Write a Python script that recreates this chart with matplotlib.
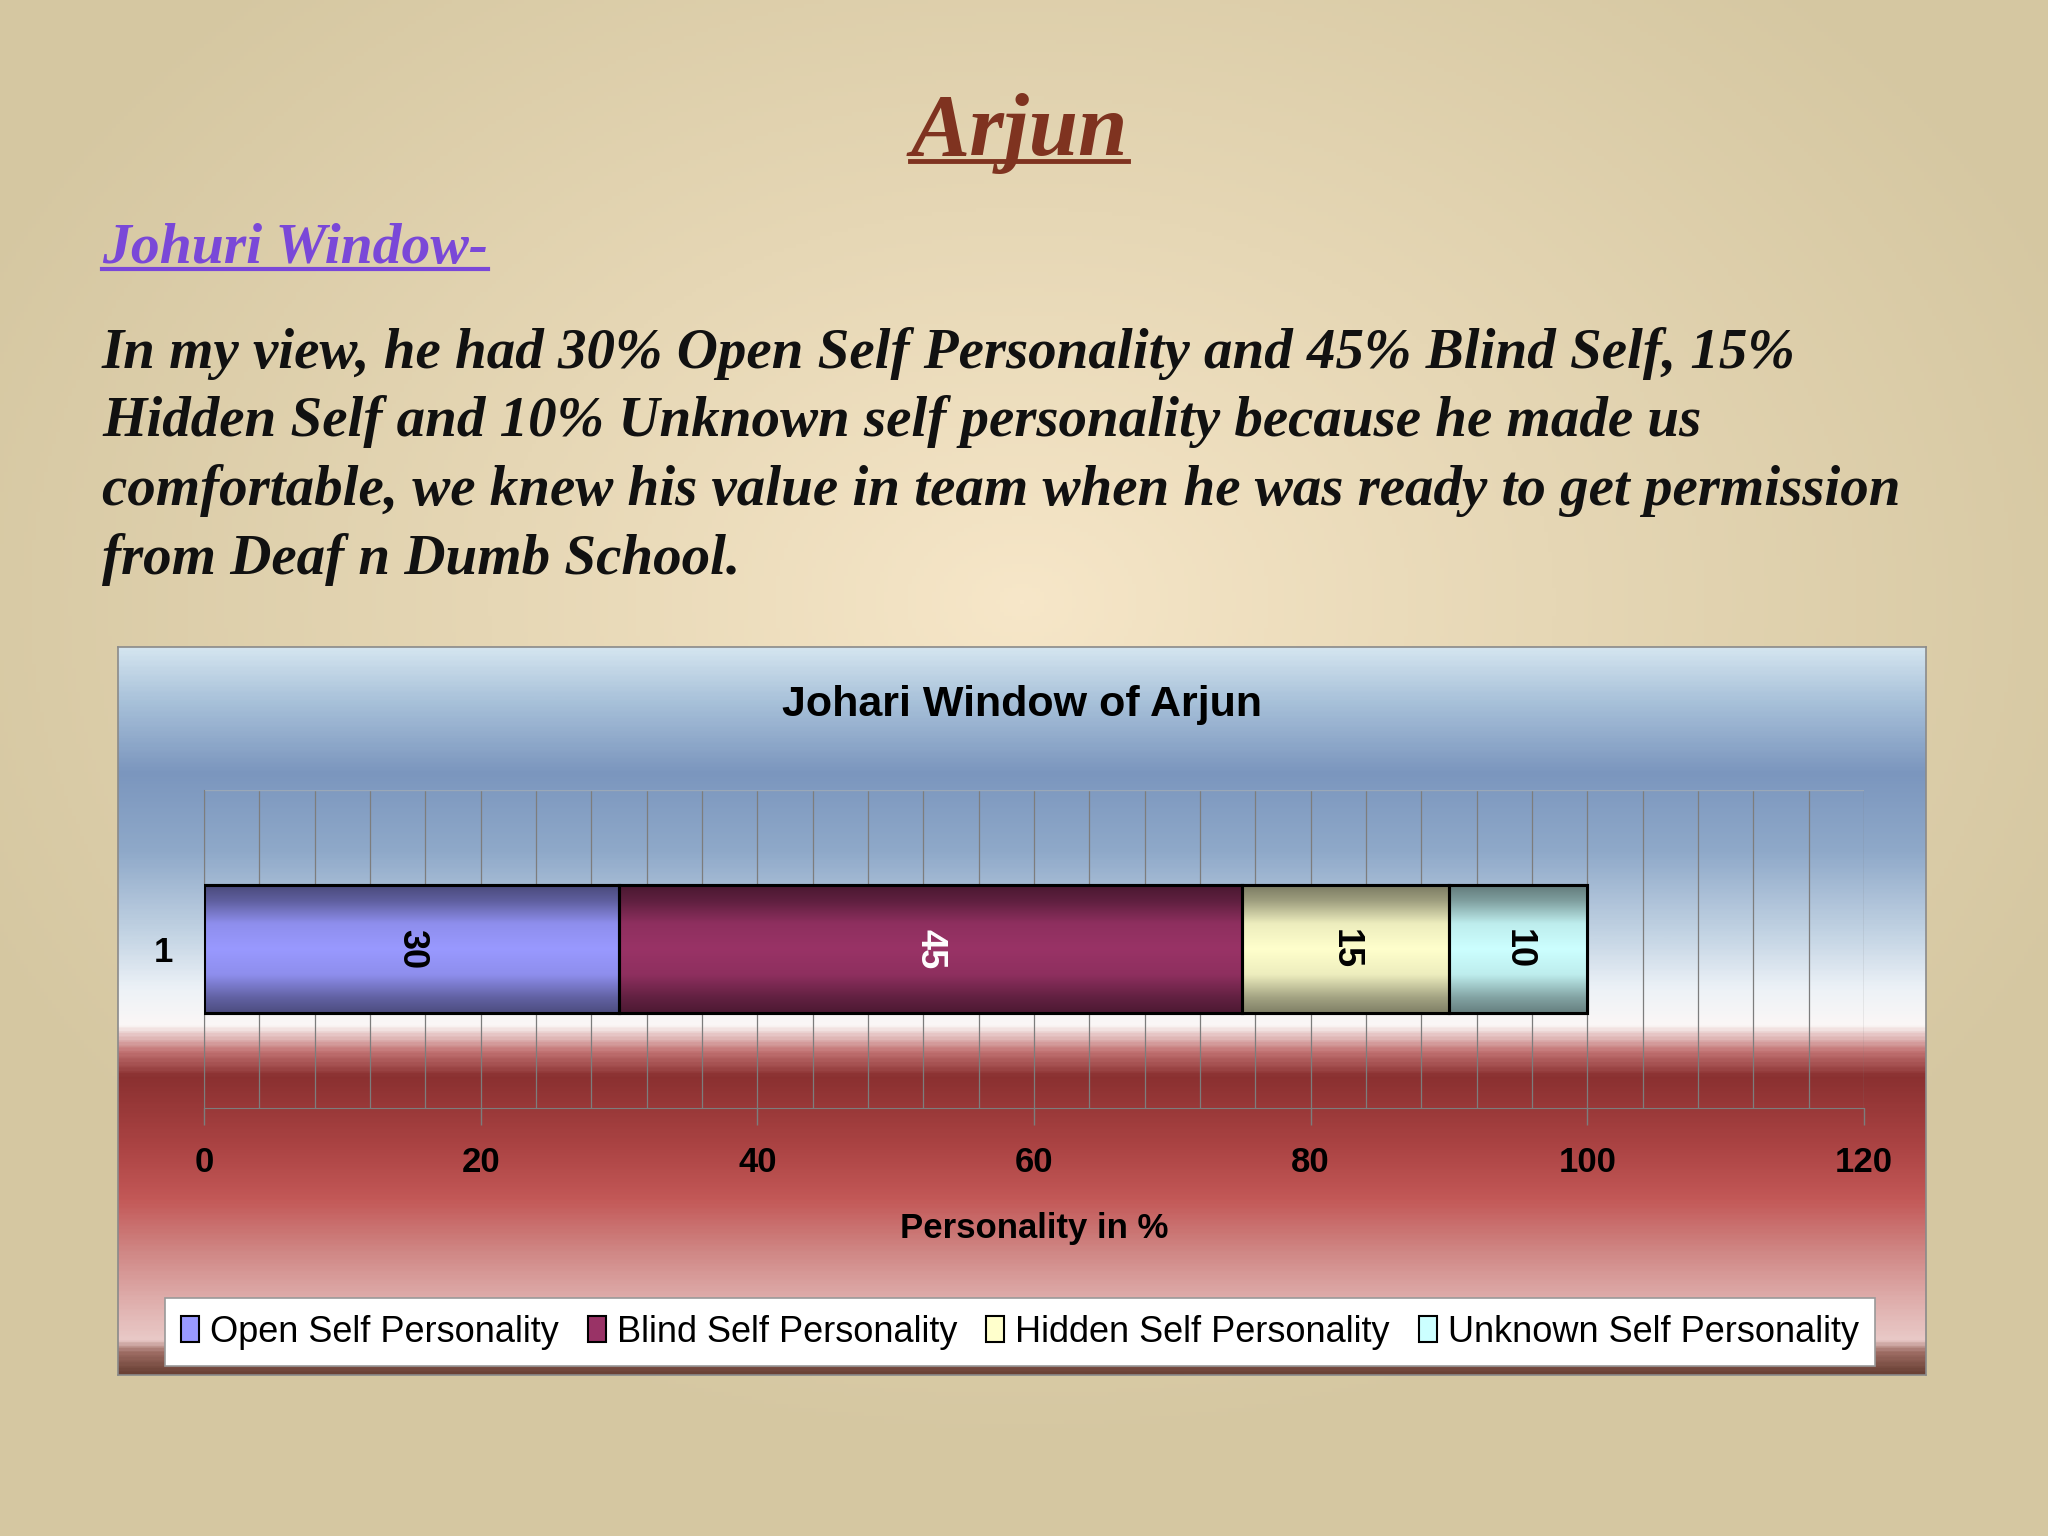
import numpy as np
import matplotlib
matplotlib.use("Agg")
import matplotlib.pyplot as plt
from matplotlib.colors import LinearSegmentedColormap, to_rgb
from matplotlib.patches import Patch
from matplotlib.lines import Line2D

# data
categories = ["1"]
series_names = ["Open Self Personality", "Blind Self Personality",
                "Hidden Self Personality", "Unknown Self Personality"]
series_values = [30, 45, 15, 10]
series_colors = ["#9999ff", "#993366", "#ffffcc", "#ccffff"]
label_colors = ["black", "white", "black", "black"]
x_ticks = [0, 20, 40, 60, 80, 100, 120]

slide_title = "Arjun"
sub_heading = "Johuri Window-"
paragraph = [
    "In my view, he had 30% Open Self Personality and 45% Blind Self, 15%",
    "Hidden Self and 10% Unknown self personality because he made us",
    "comfortable, we knew his value in team when he was ready to get permission",
    "from Deaf n Dumb School.",
]

W, H = 2048, 1536
fig = plt.figure(figsize=(W / 100, H / 100), dpi=100)

# slide background, soft radial gradient
bg = fig.add_axes([0, 0, 1, 1])
bg.set_axis_off()
yy, xx = np.mgrid[0:H:4, 0:W:4]
d = np.sqrt(((xx - 1020) / 1150.0) ** 2 + ((yy - 600) / 850.0) ** 2)
d = np.clip(d, 0, 1)
c_in = np.array(to_rgb("#f7e7c9"))
c_out = np.array(to_rgb("#d5c7a1"))
img = c_in + (c_out - c_in) * d[..., None] ** 0.9
bg.imshow(img, extent=[0, W, H, 0], aspect="auto")
bg.set_xlim(0, W)
bg.set_ylim(H, 0)

serif = "Liberation Serif"
sans = "Liberation Sans"

def underline(txt, color, lw, gap):
    fig.canvas.draw()
    bb = txt.get_window_extent()
    y = bb.y0 + gap
    fig.add_artist(Line2D([bb.x0 / W, bb.x1 / W], [y / H, y / H],
                          transform=fig.transFigure, color=color, lw=lw))

t1 = bg.text(1019, 133, slide_title, fontfamily=serif, fontweight="bold",
             fontstyle="italic", fontsize=64, color="#7f3320",
             ha="center", va="center")
t2 = bg.text(102, 263, sub_heading, fontfamily=serif, fontweight="bold",
             fontstyle="italic", fontsize=41.5, color="#7a48d8",
             ha="left", va="baseline")
for i, line in enumerate(paragraph):
    bg.text(102, 368 + i * 68.5, line, fontfamily=serif, fontweight="bold",
            fontstyle="italic", fontsize=41, color="#111111",
            ha="left", va="baseline")

# chart box with banded gradient
box = fig.add_axes([118 / W, 1 - 1375 / H, 1808 / W, 728 / H])
box.set_xticks([])
box.set_yticks([])
stops = [
    (0.00, "#d3e4ef"), (0.07, "#a9c2da"), (0.17, "#7b96be"),
    (0.28, "#8fa9c9"), (0.40, "#c6d6e5"), (0.47, "#edf2f7"),
    (0.52, "#fbf7f6"), (0.555, "#c47676"), (0.59, "#8a3030"),
    (0.69, "#ac4444"), (0.76, "#c35857"), (0.83, "#cf8583"),
    (0.90, "#dfaeac"), (0.955, "#e9cac8"), (0.972, "#9c6b62"),
    (1.00, "#6b4236"),
]
cmap = LinearSegmentedColormap.from_list("box", stops)
box.imshow(np.linspace(0, 1, 400)[:, None], cmap=cmap, aspect="auto",
           extent=[0, 1, 0, 1], vmin=0, vmax=1)
box.set_xlim(0, 1)
box.set_ylim(0, 1)
for s in box.spines.values():
    s.set_color("#8a8a8a")
    s.set_linewidth(1.2)

box.text(0.5, 0.92, "Johari Window of Arjun", transform=box.transAxes,
         fontfamily=sans, fontweight="bold", fontsize=31, ha="center",
         va="center", color="black")

# plot area
ax = fig.add_axes([204 / W, 1 - 1108 / H, 1660 / W, 318 / H])
ax.patch.set_alpha(0)
ax.set_xlim(0, 120)
ax.set_ylim(-0.5, 0.5)
for gx in np.arange(0, 121, 4):
    ax.axvline(gx, color="#7d7d7d", lw=0.9, zorder=1)

left = 0
profile_t = [0.0, 0.12, 0.3, 0.5, 0.7, 0.88, 1.0]
profile_f = [0.48, 0.62, 0.93, 1.0, 0.93, 0.64, 0.5]
t = np.linspace(0, 1, 200)
f = np.interp(t, profile_t, profile_f)
for val, col, lc in zip(series_values, series_colors, label_colors):
    bars = ax.barh(0, val, left=left, height=0.4, color=col,
                   edgecolor="black", linewidth=2.2, zorder=3)
    rect = bars.patches[0]
    base = np.array(to_rgb(col))
    grad = np.clip(base[None, None, :] * f[:, None, None], 0, 1)
    x0, y0 = rect.get_x(), rect.get_y()
    im = ax.imshow(grad, extent=[x0, x0 + rect.get_width(), y0, y0 + rect.get_height()],
                   aspect="auto", zorder=3.5, origin="upper")
    im.set_clip_path(rect)
    ax.barh(0, val, left=left, height=0.4, color="none",
            edgecolor="black", linewidth=2.2, zorder=4)
    ax.text(left + val / 2, 0, str(val), rotation=-90, ha="center",
            va="center", fontfamily=sans, fontweight="bold", fontsize=26,
            color=lc, zorder=5)
    left += val
ax.set_xlim(0, 120)
ax.set_ylim(-0.5, 0.5)

ax.set_yticks([0])
ax.set_yticklabels(categories, fontfamily=sans, fontweight="bold", fontsize=25)
ax.tick_params(axis="y", length=0, pad=22)
ax.set_xticks(x_ticks)
ax.set_xticklabels([str(v) for v in x_ticks], fontfamily=sans,
                   fontweight="bold", fontsize=25)
ax.tick_params(axis="x", length=12, width=1, color="#7d7d7d", pad=15)
ax.set_xlabel("Personality in %", fontfamily=sans, fontweight="bold",
              fontsize=25, labelpad=24)
for side in ["top", "right"]:
    ax.spines[side].set_visible(False)
ax.spines["left"].set_color("#7d7d7d")
ax.spines["bottom"].set_color("#7d7d7d")
ax.axhline(0.5, color="#9aa8b8", lw=1.0, zorder=1)

handles = [Patch(facecolor=c, edgecolor="black", linewidth=1.5) for c in series_colors]
leg = fig.legend(handles, series_names, loc="center",
                 bbox_to_anchor=(1020 / W, 1 - 1332 / H), ncol=4,
                 prop={"family": sans, "size": 26}, frameon=True,
                 fancybox=False, framealpha=1, edgecolor="#999999",
                 handlelength=0.5, handleheight=0.75, handletextpad=0.3,
                 columnspacing=0.8, borderpad=0.45)
leg.get_frame().set_linewidth(1.2)

underline(t1, "#7f3320", 3.5, 13)
underline(t2, "#7a48d8", 3, 6)

fig.savefig("out.png", dpi=100)
